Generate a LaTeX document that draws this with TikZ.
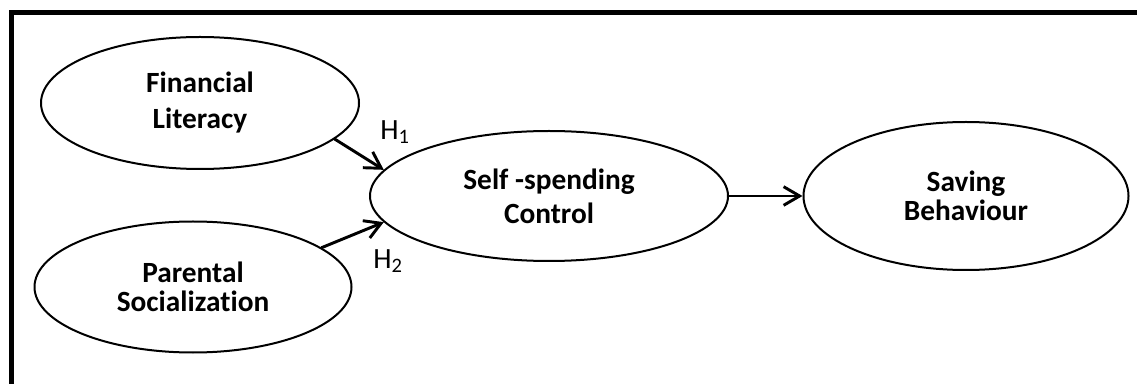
\documentclass[tikz,border=0pt]{standalone}
\usepackage{fontspec}
\setmainfont{Carlito}[Ligatures=NoCommon]
\usetikzlibrary{shapes.geometric,arrows.meta}
\begin{document}
\begin{tikzpicture}[x=0.75pt,y=-0.75pt,>={Straight Barb[length=12pt,width=14pt]}, line join=round, line cap=round,
    var/.style={ellipse,draw,line width=1.5pt,inner sep=0pt,align=center,font=\bfseries\fontsize{22}{22}\selectfont},
    link/.style={->,line width=2.2pt},
    hyp/.style={inner sep=0pt,font=\fontsize{22}{24}\selectfont}]
    \useasboundingbox (0,0) rectangle (1137,384);
    \draw[line width=3.75pt,line join=miter,line cap=butt] (11.5,384)--(11.5,12.5)--(1137,12.5); % khung
    \node[var,minimum width=238.5pt,minimum height=99pt] (fin) at (200,103) {Financial\\[5pt]Literacy};
    \node[var,minimum width=237.75pt,minimum height=98.25pt] (par) at (193,287) {Parental\\Socialization};
    \node[var,minimum width=268.5pt,minimum height=97.5pt] (ssc) at (549,196) {Self -spending\\[3.5pt]Control};
    \node[var,minimum width=243.75pt,minimum height=111pt] (sav) at (966,196) {Saving\\Behaviour};
    \draw[link] (fin.-15)--(ssc.171);
    \draw[link] (par.17)--(ssc.189);
    \draw[link] (ssc.east)--(sav.west);
    \node[hyp] (h1) at (395,132) {H\textsubscript{1}};
    \node[hyp] (h2) at (388,261) {H\textsubscript{2}};
\end{tikzpicture}
\end{document}
